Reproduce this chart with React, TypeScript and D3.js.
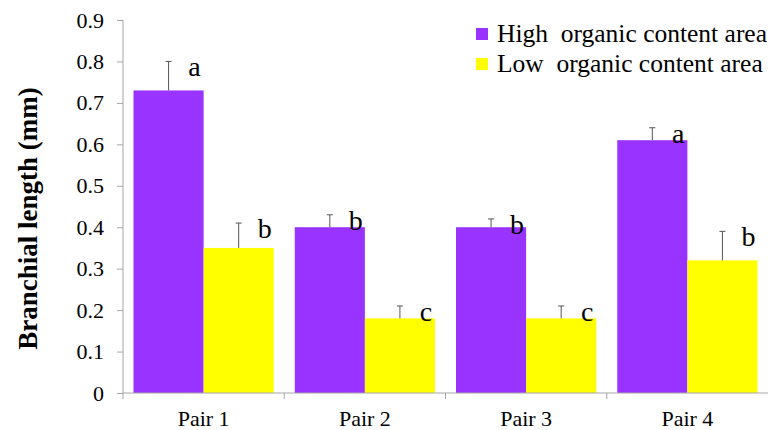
import { useEffect, useRef } from "react";
import * as d3 from "d3";

const pairs = ["Pair 1", "Pair 2", "Pair 3", "Pair 4"];
const seriesNames = ["High  organic content area", "Low  organic content area"];
const seriesColors = ["#9933FF", "#FFFF00"];
const highValues = [0.73, 0.4, 0.4, 0.61];
const highErrors = [0.07, 0.03, 0.02, 0.03];
const lowValues = [0.35, 0.18, 0.18, 0.32];
const lowErrors = [0.06, 0.03, 0.03, 0.07];
const highLetters = ["a", "b", "b", "a"];
const lowLetters = ["b", "c", "c", "b"];
const yTicks = [0, 0.1, 0.2, 0.3, 0.4, 0.5, 0.6, 0.7, 0.8, 0.9];

const App = () => {
    const svgRef = useRef<SVGSVGElement>(null);

    useEffect(() => {
        const width = 768;
        const height = 430;
        const margin = { top: 20, right: 0, bottom: 37, left: 123 };
        const font = "Liberation Serif, Times New Roman, serif";
        const axisColor = "#a6a6a6";

        const svg = d3.select(svgRef.current);
        svg.selectAll("*").remove();
        svg.attr("width", width).attr("height", height);

        const x = d3
            .scaleBand()
            .domain(pairs)
            .range([margin.left, width - margin.right])
            .padding(0);

        const xs = d3
            .scaleBand()
            .domain(["high", "low"])
            .range([0, x.bandwidth()])
            .paddingInner(0)
            .paddingOuter(0.15);

        const y = d3
            .scaleLinear()
            .domain([0, 0.9])
            .range([height - margin.bottom, margin.top]);

        const rows = pairs.map((p, i) => ({
            pair: p,
            values: [
                { key: "high", v: highValues[i], e: highErrors[i], l: highLetters[i], c: seriesColors[0] },
                { key: "low", v: lowValues[i], e: lowErrors[i], l: lowLetters[i], c: seriesColors[1] },
            ],
        }));

        // bars
        const groups = svg
            .selectAll("g.pair")
            .data(rows)
            .join("g")
            .attr("class", "pair")
            .attr("transform", (d) => `translate(${x(d.pair)},0)`);

        groups
            .selectAll("rect")
            .data((d) => d.values)
            .join("rect")
            .attr("x", (d) => xs(d.key)!)
            .attr("y", (d) => y(d.v))
            .attr("width", xs.bandwidth())
            .attr("height", (d) => y(0) - y(d.v))
            .attr("fill", (d) => d.c);

        // error bars (upper only)
        const err = groups
            .selectAll("g.err")
            .data((d) => d.values)
            .join("g")
            .attr("class", "err")
            .attr("stroke", "#555")
            .attr("stroke-width", 1);
        err.append("line")
            .attr("x1", (d) => xs(d.key)! + xs.bandwidth() / 2)
            .attr("x2", (d) => xs(d.key)! + xs.bandwidth() / 2)
            .attr("y1", (d) => y(d.v))
            .attr("y2", (d) => y(d.v + d.e));
        err.append("line")
            .attr("x1", (d) => xs(d.key)! + xs.bandwidth() / 2 - 3)
            .attr("x2", (d) => xs(d.key)! + xs.bandwidth() / 2 + 3)
            .attr("y1", (d) => y(d.v + d.e))
            .attr("y2", (d) => y(d.v + d.e));

        // significance letters
        groups
            .selectAll("text.sig")
            .data((d) => d.values)
            .join("text")
            .attr("class", "sig")
            .attr("x", (d) => xs(d.key)! + xs.bandwidth() / 2 + 26)
            .attr("y", (d) => y(d.v + d.e) + 15)
            .attr("text-anchor", "middle")
            .attr("font-family", font)
            .attr("font-size", 28)
            .attr("fill", "#000")
            .text((d) => d.l);

        // y axis
        const yAxis = svg
            .append("g")
            .attr("transform", `translate(${margin.left},0)`)
            .call(
                d3
                    .axisLeft(y)
                    .tickValues(yTicks)
                    .tickSize(6)
                    .tickPadding(13)
                    .tickFormat((d) => (d === 0 ? "0" : d3.format(".1f")(d as number)))
            )
            .attr("font-family", font)
            .attr("font-size", 22);
        yAxis.select(".domain").attr("stroke", axisColor).attr("d", `M0,${y(0) + 6}V${y(0.9)}`);
        yAxis.selectAll(".tick line").attr("stroke", axisColor);
        yAxis.selectAll(".tick text").attr("fill", "#000");

        // x axis
        const xAxis = svg
            .append("g")
            .attr("transform", `translate(0,${y(0)})`)
            .call(d3.axisBottom(x).tickSize(0).tickPadding(17))
            .attr("font-family", font)
            .attr("font-size", 22);
        xAxis.select(".domain").attr("stroke", axisColor).attr("d", `M${margin.left},0H${width}`);
        xAxis.selectAll(".tick text").attr("fill", "#000");
        xAxis
            .selectAll("line.sep")
            .data(pairs.slice(1))
            .join("line")
            .attr("class", "sep")
            .attr("x1", (d) => x(d)!)
            .attr("x2", (d) => x(d)!)
            .attr("y1", 0)
            .attr("y2", 6)
            .attr("stroke", axisColor);

        // y title
        svg.append("text")
            .attr("transform", `translate(37,${(y(0) + y(0.9)) / 2 + 12}) rotate(-90)`)
            .attr("text-anchor", "middle")
            .attr("font-family", font)
            .attr("font-weight", "bold")
            .attr("font-size", 27)
            .attr("fill", "#000")
            .text("Branchial length (mm)");

        // legend
        const legend = svg
            .selectAll("g.legend")
            .data(seriesNames)
            .join("g")
            .attr("class", "legend")
            .attr("transform", (_, i) => `translate(476,${28 + i * 30})`);
        legend
            .append("rect")
            .attr("width", 12)
            .attr("height", 12)
            .attr("fill", (_, i) => seriesColors[i]);
        legend
            .append("text")
            .attr("x", 21)
            .attr("y", 14)
            .attr("font-family", font)
            .attr("font-size", 25.5)
            .attr("fill", "#000")
            .style("white-space", "pre")
            .text((d) => d);
    }, []);

    return <svg ref={svgRef} style={{ position: "absolute", left: 0, top: 0 }}></svg>;
};

export default App;
